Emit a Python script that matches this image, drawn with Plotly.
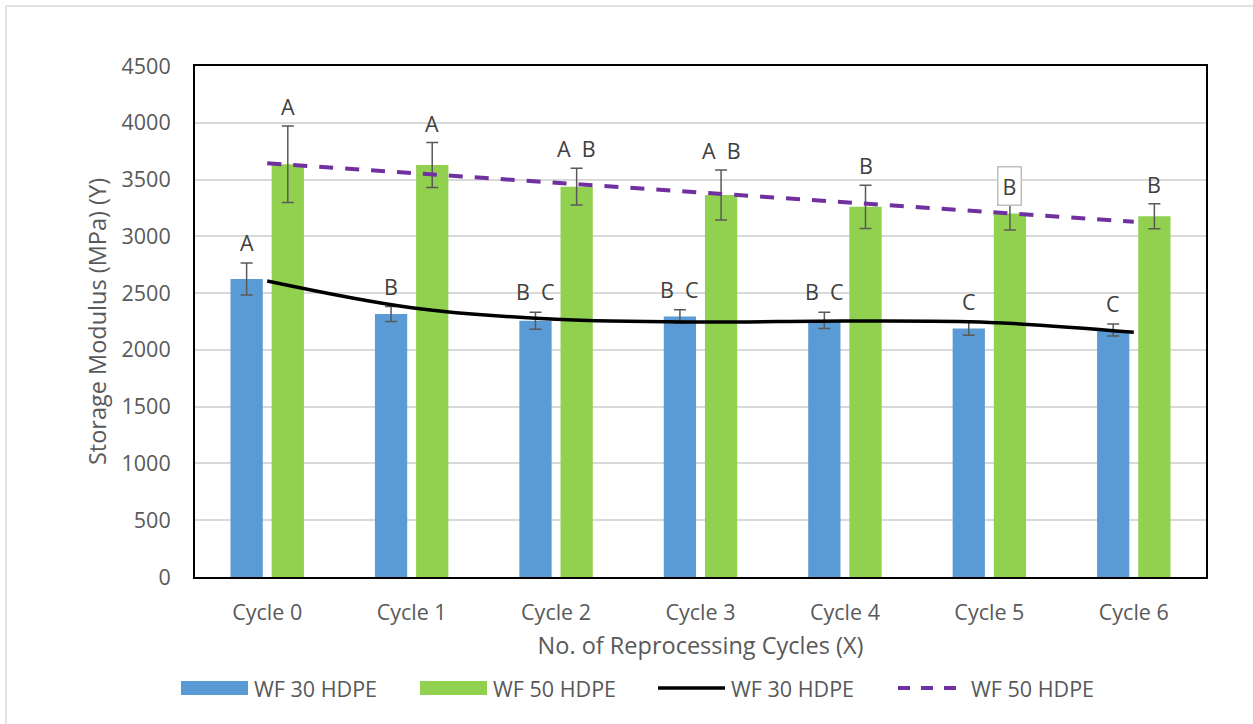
import plotly.graph_objects as go

# Storage modulus of wood-flour/HDPE composites over reprocessing cycles
cycles = ["Cycle 0", "Cycle 1", "Cycle 2", "Cycle 3", "Cycle 4", "Cycle 5", "Cycle 6"]

wf30 = [2625, 2315, 2257, 2294, 2260, 2188, 2175]
wf30_err = [141, 66, 75, 60, 72, 59, 52]
wf50 = [3634, 3628, 3437, 3364, 3260, 3202, 3177]
wf50_err = [337, 198, 162, 220, 190, 146, 110]

# fitted trend curves evaluated at each cycle
wf30_trend = [2607, 2372, 2269, 2245, 2254, 2242, 2155]
wf50_trend = [3643, 3557, 3471, 3386, 3300, 3214, 3129]

# statistical grouping letters
wf30_groups = ["A", "B", "B  C", "B  C", "B  C", "C", "C"]
wf50_groups = ["A", "A", "A  B", "A  B", "B", "B", "B"]

BLUE = "#5b9bd5"
GREEN = "#92d050"
PURPLE = "#7030a0"
TEXT = "#595959"
FONT = "Open Sans"
TICK_SIZE = 21.5
TITLE_SIZE = 23.5

W, H = 1253, 724
L, R, T, B = 195, 1206, 66, 577  # plot area in pixels

BARGAP = 0.43
GROUPGAP = 0.216
OFFSET = (1 - BARGAP) / 4  # centre of each bar relative to its category

x = list(range(len(cycles)))

fig = go.Figure()

err_style = dict(type="data", color=TEXT, thickness=1.5, width=6)

fig.add_trace(go.Bar(
    x=x, y=wf30, name="WF 30 HDPE", offsetgroup="a",
    marker=dict(color=BLUE, line=dict(width=0)),
    error_y=dict(array=wf30_err, **err_style), showlegend=False,
))
fig.add_trace(go.Bar(
    x=x, y=wf50, name="WF 50 HDPE", offsetgroup="b",
    marker=dict(color=GREEN, line=dict(width=0)),
    error_y=dict(array=wf50_err, **err_style), showlegend=False,
))
fig.add_trace(go.Scatter(
    x=x, y=wf30_trend, mode="lines", name="WF 30 HDPE",
    line=dict(color="black", width=3.5, shape="spline", smoothing=1.0),
    showlegend=False,
))
fig.add_trace(go.Scatter(
    x=x, y=wf50_trend, mode="lines", name="WF 50 HDPE",
    line=dict(color=PURPLE, width=4, dash="14px,12px", shape="spline"),
    showlegend=False,
))

annotations = []


def nb(s):
    return s.replace(" ", "\u00a0")


for i in x:
    annotations.append(dict(
        x=i - OFFSET, y=wf30[i] + wf30_err[i], xref="x", yref="y",
        text=nb(wf30_groups[i]), showarrow=False, yanchor="bottom", yshift=4,
        font=dict(family=FONT, size=TICK_SIZE, color="#404040"),
    ))
    boxed = i == 5
    annotations.append(dict(
        x=i + OFFSET, y=wf50[i] + wf50_err[i], xref="x", yref="y",
        text=nb(wf50_groups[i]), showarrow=False, yanchor="bottom",
        yshift=-9 if boxed else 4,
        font=dict(family=FONT, size=TICK_SIZE, color="#404040"),
        bgcolor="white" if boxed else None,
        bordercolor="#bfbfbf" if boxed else None,
        borderwidth=1.5 if boxed else 0, borderpad=4 if boxed else 1,
    ))


def px(xp):
    return (xp - L) / (R - L)


def py(yp):
    return (B - yp) / (B - T)


# legend drawn as swatches with text
shapes = []
legend_y = 688
items = [
    ("rect", BLUE, 181, "WF 30 HDPE"),
    ("rect", GREEN, 420, "WF 50 HDPE"),
    ("line", "black", 658, "WF 30 HDPE"),
    ("dash", PURPLE, 898, "WF 50 HDPE"),
]
for kind, col, x0, label in items:
    if kind == "rect":
        shapes.append(dict(type="rect", xref="paper", yref="paper",
                           x0=px(x0), x1=px(x0 + 67), y0=py(legend_y + 7), y1=py(legend_y - 7),
                           fillcolor=col, line=dict(width=0)))
    else:
        shapes.append(dict(type="line", xref="paper", yref="paper",
                           x0=px(x0), x1=px(x0 + 67), y0=py(legend_y), y1=py(legend_y),
                           line=dict(color=col, width=3.5 if kind == "line" else 4,
                                     dash="solid" if kind == "line" else "12px,11px")))
    annotations.append(dict(
        x=px(x0 + 71), y=py(legend_y), xref="paper", yref="paper",
        text=label, showarrow=False, xanchor="left", yanchor="middle",
        font=dict(family=FONT, size=TICK_SIZE, color=TEXT),
    ))

# chart area frame (top and left edges)
shapes.append(dict(type="line", xref="paper", yref="paper",
                   x0=px(6), x1=px(1260), y0=py(6), y1=py(6),
                   line=dict(color="#d9d9d9", width=1.5)))
shapes.append(dict(type="line", xref="paper", yref="paper",
                   x0=px(6), x1=px(6), y0=py(6), y1=py(730),
                   line=dict(color="#d9d9d9", width=1.5)))

fig.update_layout(
    width=W, height=H,
    margin=dict(l=L, r=W - R, t=T, b=H - B, pad=0),
    paper_bgcolor="white", plot_bgcolor="white",
    barmode="group", bargap=BARGAP, bargroupgap=GROUPGAP,
    font=dict(family=FONT, size=TICK_SIZE, color=TEXT),
    annotations=annotations, shapes=shapes,
    showlegend=False,
)
fig.update_xaxes(
    range=[-0.5, 6.5], tickmode="array", tickvals=x, ticktext=cycles,
    showgrid=False, zeroline=False, ticks="", ticklabelstandoff=15,
    showline=True, mirror=True, linecolor="black", linewidth=2,
    tickfont=dict(family=FONT, size=TICK_SIZE, color=TEXT),
    title=dict(text="No. of Reprocessing Cycles (X)", standoff=13,
               font=dict(family=FONT, size=TITLE_SIZE, color=TEXT)),
)
fig.update_yaxes(
    range=[0, 4500], dtick=500, tick0=0,
    showgrid=True, gridcolor="#d9d9d9", gridwidth=1.5, zeroline=False,
    ticks="", ticklabelstandoff=18,
    showline=True, mirror=True, linecolor="black", linewidth=2,
    tickfont=dict(family=FONT, size=TICK_SIZE, color=TEXT),
    title=dict(text="Storage Modulus (MPa) (Y)", standoff=8,
               font=dict(family=FONT, size=TITLE_SIZE, color=TEXT)),
)

fig.write_html("out.html")
